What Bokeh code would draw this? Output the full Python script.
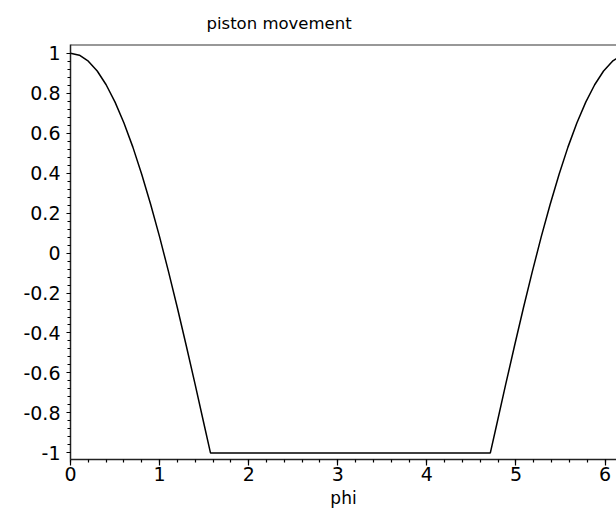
from bokeh.plotting import figure
from bokeh.models import Range1d, FixedTicker, Span, PrintfTickFormatter
from bokeh.embed import file_html
from bokeh.resources import INLINE
import numpy as np

# crank angle (rad) and normalised piston position
phi = [0.0, 0.1, 0.2, 0.3, 0.4, 0.5, 0.6, 0.7, 0.8, 0.9, 1.0, 1.1, 1.2, 1.3, 1.4, 1.5, 1.571,
       4.712, 4.783, 4.883, 4.983, 5.083, 5.183, 5.283, 5.383, 5.483, 5.583, 5.683, 5.783,
       5.883, 5.983, 6.083, 6.183, 6.283]
position = [1.0, 0.990, 0.960, 0.911, 0.842, 0.755, 0.651, 0.530, 0.393, 0.243, 0.081, -0.093,
            -0.275, -0.465, -0.660, -0.859, -1.0,
            -1.0, -0.859, -0.660, -0.465, -0.275, -0.093, 0.081, 0.243, 0.393, 0.530, 0.651,
            0.755, 0.842, 0.911, 0.960, 0.990, 1.0]

x_ticks = [0, 1, 2, 3, 4, 5, 6]
x_labels = ["0", "1", "2", "3", "4", "5", "6"]
y_ticks = [-1, -0.8, -0.6, -0.4, -0.2, 0, 0.2, 0.4, 0.6, 0.8, 1]
y_labels = ["-1", "-0.8", "-0.6", "-0.4", "-0.2", "0", "0.2", "0.4", "0.6", "0.8", "1"]

FONT = "DejaVu Sans"

p = figure(width=616, height=514, output_backend="svg", toolbar_location=None,
           x_range=Range1d(0, 6.128), y_range=Range1d(-1.033, 1.0435),
           min_border_left=70, min_border_right=0, min_border_top=44, min_border_bottom=55,
           title="piston movement")
p.background_fill_color = "white"
p.border_fill_color = "white"
p.outline_line_color = None
p.grid.visible = False

p.title.text_font = FONT
p.title.text_font_size = "16.5px"
p.title.text_font_style = "normal"
p.title.text_color = "black"
p.title.align = "left"
p.title.offset = 136
p.title.vertical_align = "top"
p.title.text_line_height = 0.9
p.title.standoff = 20

# top frame edge
p.add_layout(Span(location=1.0435, dimension="width", line_color="#333333", line_width=2))

p.line(phi, position, line_color="black", line_width=1.5)

xt = FixedTicker(ticks=x_ticks, minor_ticks=list(np.round(np.arange(0, 6.3, 0.2), 3)))
yt = FixedTicker(ticks=y_ticks, minor_ticks=list(np.round(np.arange(-1, 1.01, 0.04), 3)))
p.xaxis.ticker = xt
p.yaxis.ticker = yt
p.xaxis.formatter = PrintfTickFormatter(format="%g")
p.yaxis.formatter = PrintfTickFormatter(format="%g")
p.xaxis.major_label_overrides = dict(zip(x_ticks, x_labels))
p.yaxis.major_label_overrides = dict(zip(y_ticks, y_labels))

p.xaxis.axis_label = "phi"
p.xaxis.axis_label_text_font = FONT
p.xaxis.axis_label_text_font_size = "17px"
p.xaxis.axis_label_text_font_style = "normal"
p.xaxis.axis_label_text_color = "black"
p.xaxis.axis_label_standoff = 4

for ax in (p.xaxis, p.yaxis):
    ax.axis_line_color = "#222222"
    ax.axis_line_width = 1.5
    ax.major_tick_line_color = "black"
    ax.minor_tick_line_color = "black"
    ax.major_tick_line_width = 1.2
    ax.minor_tick_line_width = 1.2
    ax.major_label_text_font = FONT
    ax.major_label_text_font_size = "19px"
    ax.major_label_text_color = "black"

p.xaxis.major_tick_in = 0
p.xaxis.major_tick_out = 6
p.xaxis.minor_tick_in = 0
p.xaxis.minor_tick_out = 3
p.xaxis.major_label_standoff = 1

p.yaxis.major_tick_in = 0
p.yaxis.major_tick_out = 4
p.yaxis.minor_tick_in = 0
p.yaxis.minor_tick_out = 3
p.yaxis.major_label_standoff = 6

open("out.html", "w").write(file_html(p, INLINE))
